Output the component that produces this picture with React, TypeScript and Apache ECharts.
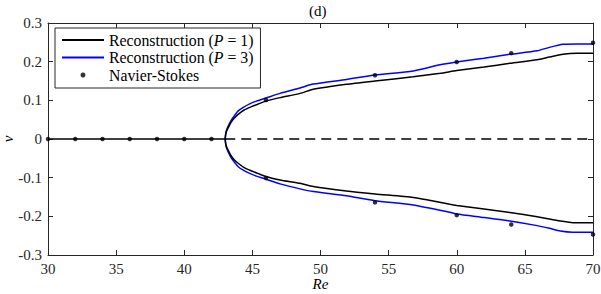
import React, { useEffect, useRef } from "react";
import * as echarts from "echarts";

// Reconstruction P = 1 (black)
const reP1Upper = [43.01, 43.03, 43.08, 43.21, 43.45, 43.7, 44, 44.4, 44.9, 45.4, 46, 47.03, 48.5, 49.47, 51.9, 54, 56.8, 58.8, 60, 62, 63.9, 65.9, 66.8, 67.8, 68.8, 70];
const vP1Upper = [0, 0.009, 0.018, 0.028, 0.044, 0.055, 0.065, 0.075, 0.083, 0.09, 0.098, 0.107, 0.118, 0.1285, 0.1414, 0.15, 0.161, 0.17, 0.177, 0.186, 0.196, 0.205, 0.212, 0.219, 0.2215, 0.2215];
const reP1Lower = [43.01, 43.03, 43.08, 43.21, 43.45, 43.7, 44, 44.4, 44.9, 45.4, 46, 47.03, 48.5, 49.47, 51.9, 54, 56.8, 57.8, 59.5, 60, 62, 63.9, 65.9, 66.8, 67.6, 68.5, 70];
const vP1Lower = [0, -0.009, -0.018, -0.028, -0.044, -0.055, -0.064, -0.074, -0.082, -0.089, -0.097, -0.106, -0.1147, -0.123, -0.1345, -0.142, -0.151, -0.157, -0.169, -0.172, -0.181, -0.19, -0.201, -0.207, -0.212, -0.2165, -0.2165];

// Reconstruction P = 3 (blue)
const reP3Upper = [43.01, 43.03, 43.08, 43.21, 43.45, 43.7, 43.94, 44.3, 44.8, 45.3, 46, 47.03, 48.5, 49.47, 51.9, 54, 56.8, 58.77, 60, 62, 63.9, 65.9, 66.8, 67.8, 68.8, 70];
const vP3Upper = [0, 0.01, 0.02, 0.032, 0.049, 0.061, 0.072, 0.081, 0.091, 0.098, 0.106, 0.118, 0.132, 0.142, 0.154, 0.1655, 0.176, 0.192, 0.199, 0.209, 0.219, 0.228, 0.237, 0.245, 0.246, 0.246];
const reP3Lower = [43.01, 43.03, 43.08, 43.21, 43.45, 43.7, 43.94, 44.3, 44.8, 45.3, 46, 47.03, 48.5, 49.47, 51.9, 54, 56.8, 59.5, 60, 62, 63.9, 65.9, 66.8, 67.6, 68.5, 70];
const vP3Lower = [0, -0.01, -0.02, -0.032, -0.049, -0.061, -0.071, -0.08, -0.089, -0.096, -0.104, -0.116, -0.129, -0.136, -0.147, -0.1595, -0.1707, -0.1896, -0.194, -0.203, -0.212, -0.224, -0.231, -0.238, -0.241, -0.241];

// Navier-Stokes samples
const nsRe = [30, 32, 34, 36, 38, 40, 42, 46, 54, 60, 64, 70, 46, 54, 60, 64, 70];
const nsV = [0, 0, 0, 0, 0, 0, 0, 0.101, 0.165, 0.199, 0.222, 0.249, -0.101, -0.164, -0.197, -0.221, -0.247];

// Trivial branch
const stableRe = [30, 43.01];
const unstableRe = [43.01, 70];

const xTicks = { min: 30, max: 70, interval: 5 };
const yTicks = { min: -0.3, max: 0.3, interval: 0.1 };

const FONT = "'Times New Roman', 'Liberation Serif', 'DejaVu Serif', serif";
const AXIS = "#262626";

function branch(reU: number[], vU: number[], reL: number[], vL: number[]) {
  const up = reU.map((r, i) => [r, vU[i]]).reverse();
  const lo = reL.map((r, i) => [r, vL[i]]).slice(1);
  return [...up, ...lo];
}

export default function App() {
  const ref = useRef<HTMLDivElement>(null);
  useEffect(() => {
    if (!ref.current) return;
    const chart = echarts.init(ref.current, null, { renderer: "svg" });
    const axisCommon = {
      type: "value" as const,
      axisLine: { show: true, onZero: false, lineStyle: { color: AXIS, width: 1 } },
      axisTick: { show: true, inside: true, length: 5, lineStyle: { color: AXIS } },
      splitLine: { show: false },
    };
    const LF = 15.8;
    const option: any = {
      animation: false,
      backgroundColor: "#ffffff",
      textStyle: { fontFamily: FONT },
      grid: { left: 48, right: 8, top: 23, bottom: 39, containLabel: false, outerBoundsMode: "none" },
      graphic: [
        {
          type: "text",
          left: 309,
          top: 3,
          style: { text: "(d)", font: "15px " + FONT, fill: "#000" },
        },
      ],
      legend: {
        left: 55,
        top: 28,
        orient: "vertical",
        data: [
          { name: "P1", itemStyle: { opacity: 0 } },
          { name: "P3", itemStyle: { opacity: 0 } },
          { name: "NS" },
        ],
        itemWidth: 42,
        itemHeight: 5,
        itemGap: 1.5,
        padding: [4, 7, 5, 6],
        backgroundColor: "#fff",
        borderColor: AXIS,
        borderWidth: 1,
        borderRadius: 0,
        z: 10,
        formatter: (name: string) => {
          if (name === "P1") return "{a|Reconstruction (}{i|P}{a| = 1)}";
          if (name === "P3") return "{a|Reconstruction (}{i|P}{a| = 3)}";
          return "{a|Navier-Stokes}";
        },
        textStyle: {
          fontFamily: FONT,
          fontSize: LF,
          color: "#000",
          lineHeight: 15.5,
          rich: {
            a: { fontFamily: FONT, fontSize: LF, color: "#000", lineHeight: 15.5 },
            i: { fontFamily: FONT, fontSize: LF, fontStyle: "italic", color: "#000", lineHeight: 15.5 },
          },
        },
      },
      xAxis: [
        {
          ...axisCommon,
          ...xTicks,
          position: "bottom",
          name: "Re",
          nameLocation: "middle",
          nameGap: 21,
          nameMoveOverlap: false,
          nameTextStyle: { fontFamily: FONT, fontSize: 15, fontStyle: "italic", color: "#000" },
          axisLabel: { fontFamily: FONT, fontSize: 15, color: "#262626", margin: 6 },
        },
        {
          ...axisCommon,
          ...xTicks,
          position: "top",
          axisLabel: { show: false },
        },
      ],
      yAxis: [
        {
          ...axisCommon,
          ...yTicks,
          position: "left",
          name: "v",
          nameLocation: "middle",
          nameRotate: 90,
          nameGap: 33,
          nameMoveOverlap: false,
          nameTextStyle: { fontFamily: FONT, fontSize: 15, fontStyle: "italic", color: "#000" },
          axisLabel: {
            fontFamily: FONT,
            fontSize: 15,
            color: "#262626",
            margin: 6,
            formatter: (v: number) => {
              const r = Math.round(v * 10) / 10;
              return r === 0 ? "0" : r.toFixed(1);
            },
          },
        },
        {
          ...axisCommon,
          ...yTicks,
          position: "right",
          axisLabel: { show: false },
        },
      ],
      series: [
        {
          name: "P1",
          type: "line",
          data: branch(reP1Upper, vP1Upper, reP1Lower, vP1Lower),
          symbol: "none",
          smooth: 0.2,
          clip: false,
          lineStyle: { color: "#000", width: 1.5 },
          itemStyle: { color: "#000" },
          z: 3,
        },
        {
          name: "P3",
          type: "line",
          data: branch(reP3Upper, vP3Upper, reP3Lower, vP3Lower),
          symbol: "none",
          smooth: 0.2,
          clip: false,
          lineStyle: { color: "#0000ff", width: 1.5 },
          itemStyle: { color: "#0000ff" },
          z: 2,
        },
        {
          name: "stable",
          type: "line",
          data: stableRe.map((r) => [r, 0]),
          symbol: "none",
          clip: false,
          lineStyle: { color: "#000", width: 1.5 },
          z: 4,
          silent: true,
        },
        {
          name: "unstable",
          type: "line",
          data: unstableRe.map((r) => [r, 0]),
          symbol: "none",
          clip: false,
          lineStyle: { color: "#000", width: 1.5, type: [10, 6] },
          z: 1,
          silent: true,
        },
        {
          name: "NS",
          type: "scatter",
          data: nsRe.map((r, i) => [r, nsV[i]]),
          symbol: "circle",
          symbolSize: 4.5,
          clip: false,
          itemStyle: { color: "#000" },
          z: 5,
        },
      ],
    };
    chart.setOption(option);
    return () => chart.dispose();
  }, []);
  return (
    <div
      ref={ref}
      style={{ position: "fixed", left: 0, top: 0, width: 601, height: 294, background: "#fff" }}
    />
  );
}
